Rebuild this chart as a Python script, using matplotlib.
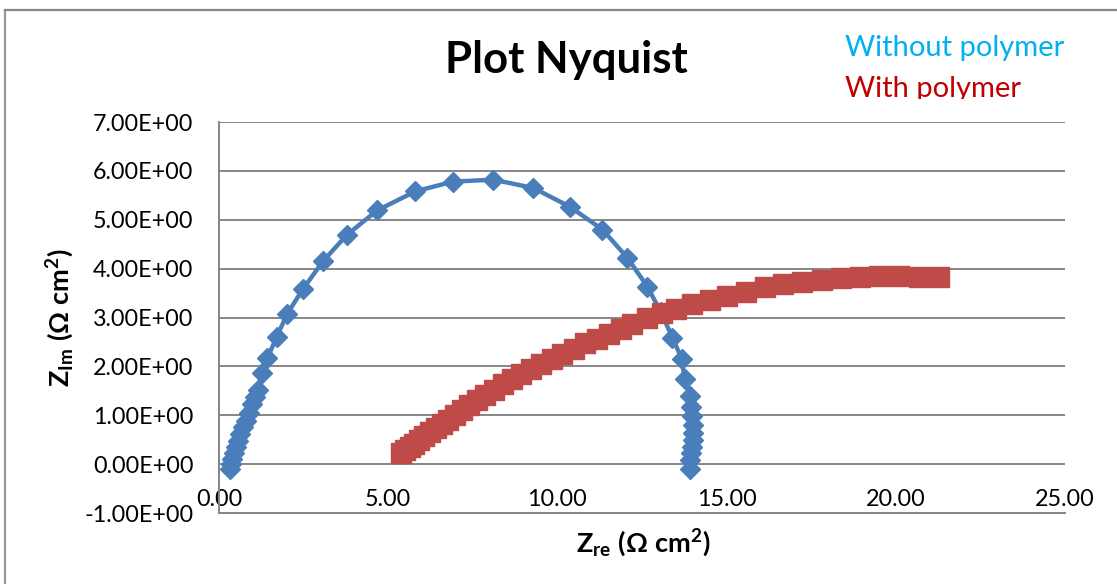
import matplotlib
matplotlib.use("Agg")
import matplotlib.pyplot as plt
from matplotlib.lines import Line2D
from matplotlib.patches import Rectangle

plt.rcParams['font.family'] = ['Lato', 'DejaVu Sans']
plt.rcParams['mathtext.fontset'] = 'custom'
plt.rcParams['mathtext.rm'] = 'Lato'
plt.rcParams['mathtext.bf'] = 'Lato:bold'
plt.rcParams['mathtext.it'] = 'Lato:italic'

# ---- data ----
title = "Plot Nyquist"
series_names = ["Without polymer", "With polymer"]

without_x = [0.33, 0.34, 0.38, 0.43, 0.49, 0.56, 0.63, 0.71, 0.79, 0.88, 0.97, 1.06,
             1.16, 1.26, 1.43, 1.71, 2.02, 2.48, 3.07, 3.78, 4.67, 5.80, 6.91, 8.11,
             9.29, 10.36, 11.33, 12.07, 12.66, 13.05, 13.40, 13.67, 13.76, 13.91, 13.96,
             13.98, 14.00, 14.01, 14.00, 13.98, 13.95, 13.93, 13.91]
without_y = [-0.10, 0.00, 0.10, 0.22, 0.35, 0.48, 0.61, 0.75, 0.89, 1.05, 1.22, 1.37,
             1.52, 1.86, 2.17, 2.61, 3.08, 3.58, 4.15, 4.69, 5.19, 5.58, 5.78, 5.82,
             5.65, 5.27, 4.80, 4.22, 3.63, 3.12, 2.59, 2.16, 1.75, 1.40, 1.16,
             0.98, 0.81, 0.64, 0.50, 0.36, 0.23, 0.09, -0.10]

with_x = [5.38, 5.50, 5.63, 5.77, 5.92, 6.07, 6.23, 6.40, 6.58, 6.77, 6.97, 7.18,
          7.40, 7.63, 7.87, 8.12, 8.38, 8.65, 8.93, 9.22, 9.52, 9.83, 10.15, 10.48,
          10.82, 11.17, 11.53, 11.88, 12.20, 12.65, 13.10, 13.49, 13.98, 14.51, 15.02,
          15.58, 16.12, 16.67, 17.24, 17.81, 18.37, 18.94, 19.51, 20.10, 20.69, 21.28]
with_y = [0.22, 0.28, 0.35, 0.42, 0.49, 0.57, 0.65, 0.73, 0.82, 0.91, 1.01, 1.11,
          1.21, 1.31, 1.42, 1.52, 1.63, 1.74, 1.84, 1.95, 2.05, 2.15, 2.26, 2.36,
          2.47, 2.57, 2.67, 2.77, 2.86, 2.98, 3.09, 3.18, 3.28, 3.36, 3.45,
          3.53, 3.62, 3.69, 3.73, 3.77, 3.80, 3.83, 3.84, 3.85, 3.83, 3.83]

x_ticks = [0, 5, 10, 15, 20, 25]
y_ticks = [-1, 0, 1, 2, 3, 4, 5, 6, 7]

# ---- figure ----
W, H = 1117, 584
fig = plt.figure(figsize=(W / 100, H / 100), dpi=100)
fig.patch.set_facecolor('white')

L, R, T, B = 219, 1065, 122, 513
ax = fig.add_axes([L / W, 1 - B / H, (R - L) / W, (B - T) / H])

grid_c = '#868686'
blue = '#4A7EBB'
red = '#BE4B48'

ax.plot(without_x, without_y, color=blue, lw=3.2, marker='D', ms=10,
        mec=blue, mfc=blue, zorder=3, clip_on=False)
ax.plot(with_x, with_y, color=red, lw=0, marker='s', ms=13.8,
        mec=red, mfc=red, zorder=4, clip_on=False)

ax.set_xlim(0, 25)
ax.set_ylim(-1, 7)
ax.set_xticks(x_ticks)
ax.set_xticklabels(['{:.2f}'.format(v) for v in x_ticks])
ax.set_yticks(y_ticks)
ax.set_yticklabels(['{:.2E}'.format(v) for v in y_ticks])

ax.yaxis.grid(True, color=grid_c, lw=1.4)
ax.set_axisbelow(True)
for s in ['top', 'right']:
    ax.spines[s].set_visible(False)
for s in ['left', 'bottom']:
    ax.spines[s].set_color(grid_c)
    ax.spines[s].set_linewidth(1.4)

ax.tick_params(axis='both', length=0, labelsize=16.8, colors='black')
ax.tick_params(axis='y', pad=18.5)
ax.tick_params(axis='x', pad=-17.5)

ax.set_xlabel(r'$\mathbf{Z_{re}\ (Ω\ cm^{2})}$', fontsize=19.5)
ax.xaxis.set_label_coords((643 - L) / (R - L), (B - 543) / (B - T), transform=ax.transAxes)
ax.xaxis.label.set_va('center')
ax.set_ylabel(r'$\mathbf{Z_{Im}\ (Ω\ cm^{2})}$', fontsize=19.5)
ax.yaxis.set_label_coords((60 - L) / (R - L), 0.5, transform=ax.transAxes)
ax.yaxis.label.set_va('center')

fig.text(566 / W, 1 - 60 / H, title, fontsize=31.5, fontweight='bold',
         ha='center', va='center')

fig.text(845 / W, 1 - 48 / H, series_names[0], fontsize=21, color='#00B0F0',
         ha='left', va='center')
fig.text(845 / W, 1 - 89 / H, series_names[1], fontsize=21, color='#C00000',
         ha='left', va='center', zorder=3)
# legend box clips the second entry
fig.add_artist(Rectangle((835 / W, 1 - 114 / H), 240 / W, 15 / H,
                         transform=fig.transFigure, facecolor='white',
                         edgecolor='none', zorder=5))

# chart border (partly cropped)
fig.add_artist(Line2D([5 / W, 5 / W], [-0.1, 1 - 10 / H], transform=fig.transFigure,
                      color='#9a9a9a', lw=1.6))
fig.add_artist(Line2D([5 / W, 1.1], [1 - 10 / H, 1 - 10 / H], transform=fig.transFigure,
                      color=grid_c, lw=1.6))

fig.savefig('out.png', dpi=100, facecolor='white')
